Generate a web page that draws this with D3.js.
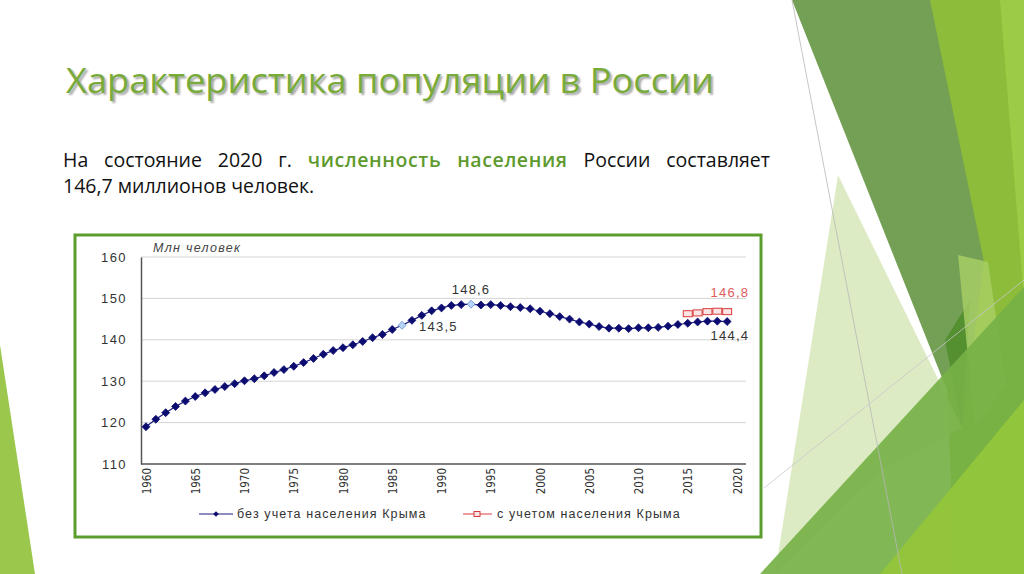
<!DOCTYPE html>
<html>
<head>
<meta charset="utf-8">
<script src="https://cdn.jsdelivr.net/npm/d3@7"></script>
<style>
  html, body { margin: 0; padding: 0; background: #fff; }
  svg { display: block; }
</style>
</head>
<body>
<svg id="slide" width="1024" height="574"></svg>
<script>
// данные: население России, млн человек (оценка по графику)
var years = d3.range(1960, 2020);
var popNoCrimea = [
  119.0, 120.8, 122.4, 123.9, 125.2, 126.3, 127.2, 128.0, 128.7, 129.4,
  130.1, 130.6, 131.3, 132.1, 132.8, 133.6, 134.5, 135.5, 136.5, 137.4,
  138.1, 138.8, 139.6, 140.5, 141.3, 142.5, 143.5, 144.7, 145.9, 147.0,
  147.7, 148.3, 148.5, 148.6, 148.4, 148.5, 148.3, 148.0, 147.8, 147.5,
  146.9, 146.3, 145.6, 145.0, 144.3, 143.8, 143.2, 142.8, 142.8, 142.7,
  142.9, 142.9, 143.0, 143.3, 143.7, 144.0, 144.3, 144.5, 144.5, 144.4
];
var crimeaYears = [2015, 2016, 2017, 2018, 2019];
var popWithCrimea = [146.3, 146.5, 146.8, 146.9, 146.8];
var highlightYears = [1986, 1993];
var yTicks = [110, 120, 130, 140, 150, 160];
var xTicks = d3.range(1960, 2021, 5);
var seriesNames = ['без учета населения Крыма', 'с учетом населения Крыма'];

var svg = d3.select('#slide');

// --- фон слайда: зелёные многоугольники ---
var bg = svg.append('g');
function poly(pts, fill, op) {
  bg.append('polygon').attr('points', pts.map(function (p) { return p.join(','); }).join(' '))
    .attr('fill', fill).attr('opacity', op == null ? 1 : op);
}
poly([[0, 345], [35, 574], [0, 574]], '#9bc84c');
poly([[930, 0], [1024, 0], [1024, 574], [955, 574]], '#8cbc3a');
poly([[1000, 0], [1024, 0], [1024, 300]], '#9ccb45');
poly([[792, 0], [930, 0], [984, 262], [962, 428]], '#74a055');
poly([[945, 340], [970, 300], [962, 428]], '#548f30');
poly([[838, 175], [962, 428], [880, 470], [775, 574]], '#d9e9bf', 0.9);
poly([[958, 255], [988, 262], [1006, 385], [975, 430]], '#a9cf67', 0.8);
poly([[760, 574], [1024, 287], [1024, 574]], '#76b146', 0.92);
poly([[880, 574], [1024, 400], [1024, 574]], '#93c63a', 0.9);
bg.append('line').attr('x1', 792).attr('y1', 0).attr('x2', 902).attr('y2', 574)
  .attr('stroke', '#b8b8b8').attr('stroke-width', 0.8);
bg.append('line').attr('x1', 764).attr('y1', 488).attr('x2', 1024).attr('y2', 280)
  .attr('stroke', '#c8c8c8').attr('stroke-width', 0.8);

// --- заголовок и текст ---
svg.append('text')
  .attr('x', 66).attr('y', 93)
  .attr('font-family', 'Open Sans, sans-serif')
  .attr('font-size', 34)
  .attr('fill', '#78ab3a')
  .attr('textLength', 648).attr('lengthAdjust', 'spacingAndGlyphs')
  .style('text-shadow', '2px 2px 2px rgba(0,0,0,0.35)')
  .text('Характеристика популяции в России');

var line1 = [
  ['На', '#111'], ['состояние', '#111'], ['2020', '#111'], ['г.', '#111'],
  ['численность', '#5e9a2e'], ['населения', '#5e9a2e'], ['России', '#111'], ['составляет', '#111']
];
var bodyFont = 'Open Sans, sans-serif';
var words = svg.append('g');
var tmp = line1.map(function (w) {
  var green = w[1] !== '#111';
  return words.append('text').attr('y', 167).attr('font-family', bodyFont)
    .attr('font-size', 19.5).attr('fill', w[1])
    .attr('font-weight', green ? 600 : 400)
    .attr('letter-spacing', green ? 0.6 : 0)
    .text(w[0]);
});
var widths = tmp.map(function (t) { return t.node().getComputedTextLength(); });
var total = d3.sum(widths);
var gap = (770 - 63 - total) / (line1.length - 1);
var cx = 63;
tmp.forEach(function (t, i) { t.attr('x', cx); cx += widths[i] + gap; });

svg.append('text').attr('x', 63).attr('y', 193).attr('font-family', bodyFont)
  .attr('font-size', 19.5).attr('fill', '#111').text('146,7 миллионов человек.');

// --- рамка графика ---
svg.append('rect').attr('x', 75).attr('y', 235).attr('width', 686).attr('height', 302)
  .attr('fill', '#fff').attr('stroke', '#5c9e2e').attr('stroke-width', 3);

// --- график ---
var x = d3.scaleLinear().domain([1960, 2020]).range([146, 737]);
var y = d3.scaleLinear().domain([110, 160]).range([464, 257]);
var chart = svg.append('g').attr('font-family', 'Liberation Sans, Arial, sans-serif');

chart.append('g').selectAll('line').data(yTicks.slice(1)).enter().append('line')
  .attr('x1', 141).attr('x2', 746)
  .attr('y1', function (d) { return y(d); }).attr('y2', function (d) { return y(d); })
  .attr('stroke', '#d4d4d4').attr('stroke-width', 1);

var yAxis = chart.append('g').attr('transform', 'translate(141,0)')
  .call(d3.axisLeft(y).tickValues(yTicks).tickSize(0).tickPadding(14));
yAxis.select('.domain').attr('stroke', '#555').attr('stroke-width', 1.5);
yAxis.selectAll('text').attr('font-size', 13).attr('fill', '#333')
  .attr('letter-spacing', 1.4)
  .attr('font-family', 'Liberation Sans, Arial, sans-serif');

var xAxis = chart.append('g').attr('transform', 'translate(0,464)')
  .call(d3.axisBottom(x).tickValues(xTicks).tickSize(0).tickFormat(d3.format('d')));
xAxis.select('.domain').attr('d', 'M141,0H746').attr('stroke', '#555').attr('stroke-width', 1.5);
xAxis.selectAll('text')
  .attr('font-family', 'Liberation Sans Narrow, DejaVu Sans Condensed, sans-serif')
  .attr('font-size', 11.5).attr('fill', '#333')
  .attr('text-anchor', 'end')
  .attr('transform', 'rotate(-90)')
  .attr('x', -4).attr('y', 0).attr('dy', '0.35em');

chart.append('text').attr('x', 153).attr('y', 252).attr('font-size', 12.5)
  .attr('letter-spacing', 1.3)
  .attr('font-style', 'italic').attr('fill', '#444').text('Млн человек');

var lineGen = d3.line()
  .x(function (d) { return x(d[0]); })
  .y(function (d) { return y(d[1]); });
var blueData = years.map(function (yr, i) { return [yr, popNoCrimea[i]]; });
var redData = crimeaYears.map(function (yr, i) { return [yr, popWithCrimea[i]]; });

chart.append('path').datum(blueData).attr('d', lineGen)
  .attr('fill', 'none').attr('stroke', '#1a1a80').attr('stroke-width', 1.2);
chart.append('path').datum(redData).attr('d', lineGen)
  .attr('fill', 'none').attr('stroke', '#d83a3a').attr('stroke-width', 1);

var diamond = d3.symbol().type(d3.symbolDiamond2 || d3.symbolDiamond).size(40);
chart.append('g').selectAll('path').data(blueData).enter().append('path')
  .attr('d', diamond)
  .attr('transform', function (d) { return 'translate(' + x(d[0]) + ',' + y(d[1]) + ')'; })
  .attr('fill', function (d) { return highlightYears.indexOf(d[0]) >= 0 ? '#b8d4f4' : '#0c0c70'; })
  .attr('stroke', function (d) { return highlightYears.indexOf(d[0]) >= 0 ? '#5a8ad0' : '#0c0c70'; })
  .attr('stroke-width', 0.8);

chart.append('g').selectAll('rect').data(redData).enter().append('rect')
  .attr('x', function (d) { return x(d[0]) - 4.5; })
  .attr('y', function (d) { return y(d[1]) - 3; })
  .attr('width', 9).attr('height', 6)
  .attr('fill', '#fbe4e4').attr('stroke', '#d83a3a').attr('stroke-width', 1);

// подписи значений
function valLabel(yr, val, dx, dy, anchor, color) {
  chart.append('text').attr('x', x(yr) + dx).attr('y', y(val) + dy)
    .attr('text-anchor', anchor).attr('font-size', 13).attr('fill', color)
    .attr('letter-spacing', 1.2)
    .text(String(val).replace('.', ','));
}
valLabel(1986, popNoCrimea[26], 17, 6, 'start', '#333');
valLabel(1993, popNoCrimea[33], 0, -10, 'middle', '#333');
valLabel(2019, popWithCrimea[3] - 0.1, 22, -15, 'end', '#e05a5a');
valLabel(2019, popNoCrimea[59], 22, 18, 'end', '#333');

// легенда
var legend = chart.append('g').attr('font-size', 12.5).attr('fill', '#333')
  .attr('letter-spacing', 1.1);
legend.append('line').attr('x1', 199).attr('x2', 233).attr('y1', 514).attr('y2', 514)
  .attr('stroke', '#1a1a80').attr('stroke-width', 1.2);
legend.append('path').attr('d', d3.symbol().type(d3.symbolDiamond2 || d3.symbolDiamond).size(20))
  .attr('transform', 'translate(216,514)').attr('fill', '#0c0c70');
legend.append('text').attr('x', 237).attr('y', 518).text(seriesNames[0]);
legend.append('line').attr('x1', 463).attr('x2', 492).attr('y1', 514).attr('y2', 514)
  .attr('stroke', '#d83a3a').attr('stroke-width', 1);
legend.append('rect').attr('x', 474).attr('y', 511.5).attr('width', 6).attr('height', 5)
  .attr('fill', '#fbe4e4').attr('stroke', '#d83a3a').attr('stroke-width', 1);
legend.append('text').attr('x', 497).attr('y', 518).text(seriesNames[1]);
</script>
</body>
</html>
